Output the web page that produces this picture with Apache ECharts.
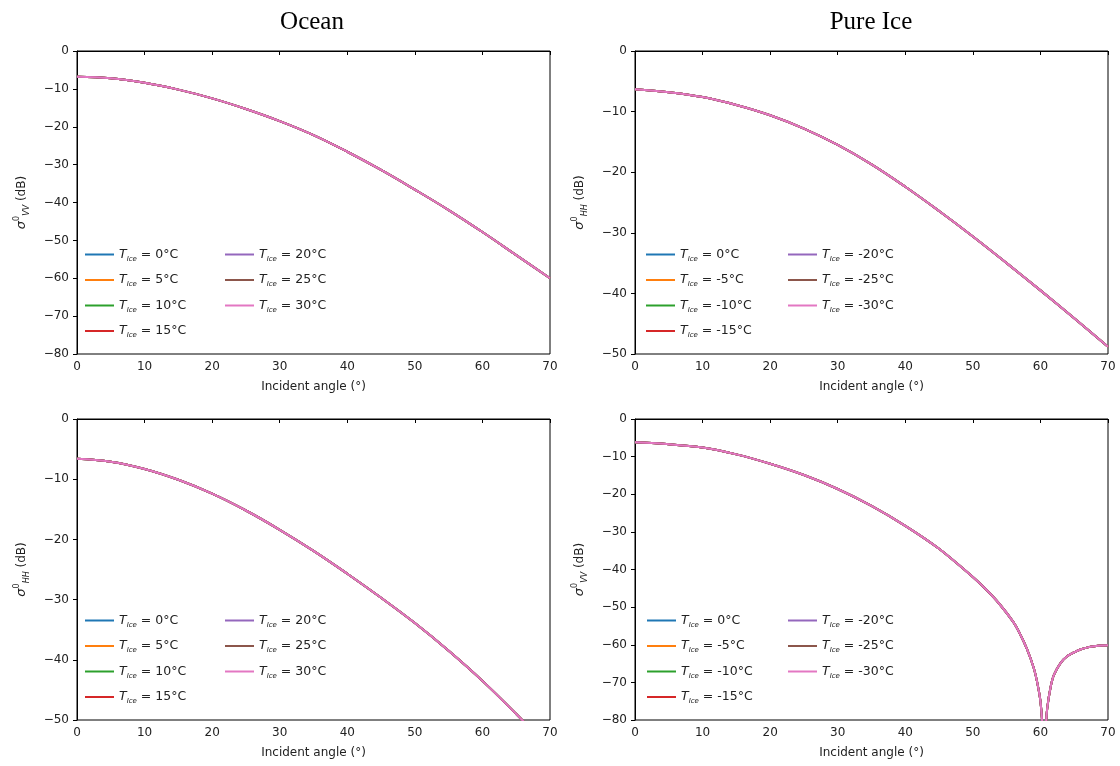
<!DOCTYPE html>
<html>
<head>
<meta charset="utf-8">
<script src="https://cdn.jsdelivr.net/npm/echarts@6/dist/echarts.min.js"></script>
<style>
html,body{margin:0;padding:0;background:#fff;}
#chart{width:1120px;height:766px;}
</style>
</head>
<body>
<div id="chart"></div>
<script>
// ---- data ----
const panelTitles = ['Ocean', 'Pure Ice'];
const oceanTemps = ['0°C', '5°C', '10°C', '15°C', '20°C', '25°C', '30°C'];
const iceTemps = ['0°C', '-5°C', '-10°C', '-15°C', '-20°C', '-25°C', '-30°C'];
const seriesColors = ['#1f77b4', '#ff7f0e', '#2ca02c', '#d62728', '#9467bd', '#8c564b', '#e377c2'];

const angles = [0, 5, 10, 15, 20, 25, 30, 35, 40, 45, 50, 55, 60, 65, 70];
// Ocean, VV (dB)
const oceanVV = [-6.8, -7.2, -8.4, -10.2, -12.5, -15.3, -18.5, -22.2, -26.6, -31.4, -36.6, -42.0, -47.8, -53.9, -60.0];
// Pure ice, HH (dB)
const iceHH = [-6.3, -6.8, -7.6, -8.9, -10.6, -12.8, -15.5, -18.7, -22.4, -26.4, -30.6, -35.0, -39.5, -44.1, -48.8];
// Ocean, HH (dB)
const oceanHH = [-6.6, -7.1, -8.3, -10.1, -12.4, -15.2, -18.4, -21.9, -25.7, -29.7, -33.9, -38.5, -43.5, -49.0, -54.8];
// Pure ice, VV (dB) — Brewster dip near 60.5°
const iceVVAngles = [0, 5, 10, 15, 20, 25, 30, 35, 40, 45, 50, 52, 54, 56, 57, 58, 59, 59.5, 60, 60.3, 60.55, 60.8, 61, 61.5, 62, 63, 64, 65, 66, 67, 68, 69, 70];
const iceVV = [-6.2, -6.7, -7.6, -9.4, -11.9, -14.9, -18.6, -23.1, -28.4, -34.5, -42.0, -45.4, -49.3, -54.0, -57.2, -61.1, -66.1, -69.8, -75.0, -82.0, -95.0, -82.0, -77.0, -71.3, -68.0, -64.8, -63.0, -62.0, -61.2, -60.7, -60.4, -60.2, -60.1];

const xTicks = {min: 0, max: 70, interval: 10};

// ---- layout ----
const grids = [
  {left: 77, top: 51, width: 473, height: 303},
  {left: 635, top: 51, width: 473, height: 303},
  {left: 77, top: 419, width: 473, height: 301},
  {left: 635, top: 419, width: 473, height: 301}
];
const panels = [
  {x: angles, y: oceanVV, ymin: -80, pol: 'VV', temps: oceanTemps, legTop: 248, col1: 85, col2: 225, smooth: 0.4},
  {x: angles, y: iceHH, ymin: -50, pol: 'HH', temps: iceTemps, legTop: 248, col1: 646, col2: 788, smooth: 0.4},
  {x: angles, y: oceanHH, ymin: -50, pol: 'HH', temps: oceanTemps, legTop: 614, col1: 85, col2: 225, smooth: 0.4},
  {x: iceVVAngles, y: iceVV, ymin: -80, pol: 'VV', temps: iceTemps, legTop: 614, col1: 647, col2: 788, smooth: 0.25}
];

const fmtNum = v => (v < 0 ? '\u2212' + Math.abs(v) : String(v));
const tickFont = {fontFamily: 'DejaVu Sans', fontSize: 12, color: '#222'};

const xAxes = [], yAxes = [], series = [], legends = [];
panels.forEach((p, i) => {
  xAxes.push({
    type: 'value', gridIndex: i, min: xTicks.min, max: xTicks.max, interval: xTicks.interval,
    name: 'Incident angle (°)', nameLocation: 'middle', nameGap: 27,
    nameTextStyle: {fontFamily: 'DejaVu Sans', fontSize: 12, color: '#222'},
    axisLine: {show: true, lineStyle: {color: '#000', width: 1}},
    axisTick: {show: true, length: 4, lineStyle: {color: '#000'}},
    axisLabel: Object.assign({margin: 7, formatter: fmtNum}, tickFont),
    splitLine: {show: false}
  });
  yAxes.push({
    type: 'value', gridIndex: i, min: p.ymin, max: 0, interval: 10,
    name: '{s|σ}{sup|0}{sub|' + p.pol + '}{n| (dB)}', nameLocation: 'middle', nameGap: 46, nameRotate: 90,
    nameTextStyle: {
      fontFamily: 'DejaVu Sans', fontSize: 12, color: '#222',
      rich: {
        s: {fontFamily: 'DejaVu Sans', fontSize: 13, fontStyle: 'italic', color: '#222', lineHeight: 18},
        sup: {fontFamily: 'DejaVu Sans', fontSize: 8, color: '#222', verticalAlign: 'top', lineHeight: 10},
        sub: {fontFamily: 'DejaVu Sans', fontSize: 8, fontStyle: 'italic', color: '#222', verticalAlign: 'bottom', lineHeight: 10},
        n: {fontFamily: 'DejaVu Sans', fontSize: 12, color: '#222', lineHeight: 18}
      }
    },
    axisLine: {show: true, lineStyle: {color: '#000', width: 1}},
    axisTick: {show: true, length: 4, lineStyle: {color: '#000'}},
    axisLabel: Object.assign({margin: 8, formatter: fmtNum}, tickFont),
    splitLine: {show: false}
  });
  const data = p.x.map((a, k) => [a, p.y[k]]);
  p.temps.forEach((t, j) => {
    series.push({
      type: 'line', name: t, xAxisIndex: i, yAxisIndex: i,
      data: data, showSymbol: false, symbol: 'none',
      smooth: p.smooth, clip: true,
      color: seriesColors[j],
      lineStyle: {width: 2, color: seriesColors[j]},
      animation: false
    });
  });
  const legBase = {
    orient: 'vertical', icon: 'rect', itemWidth: 29, itemHeight: 2, itemGap: 11,
    padding: 0, top: p.legTop, selectedMode: false,
    formatter: n => '{i|T}{s|Ice}{n| = ' + n + '}',
    textStyle: {
      fontFamily: 'DejaVu Sans', fontSize: 12, color: '#222',
      rich: {
        i: {fontFamily: 'DejaVu Sans', fontSize: 12.5, fontStyle: 'italic', color: '#222', lineHeight: 16},
        s: {fontFamily: 'DejaVu Sans', fontSize: 7, fontStyle: 'italic', color: '#222', verticalAlign: 'bottom', lineHeight: 10},
        n: {fontFamily: 'DejaVu Sans', fontSize: 12.5, color: '#222', lineHeight: 16}
      }
    }
  };
  legends.push(Object.assign({}, legBase, {left: p.col1, data: p.temps.slice(0, 4)}));
  legends.push(Object.assign({}, legBase, {left: p.col2, data: p.temps.slice(4)}));
});

const titles = [
  {text: panelTitles[0], left: 307, top: 5, textAlign: 'center',
   textStyle: {fontFamily: 'Liberation Serif', fontSize: 25, fontWeight: 'normal', color: '#000'}},
  {text: panelTitles[1], left: 866, top: 5, textAlign: 'center',
   textStyle: {fontFamily: 'Liberation Serif', fontSize: 25, fontWeight: 'normal', color: '#000'}}
];

const chart = echarts.init(document.getElementById('chart'), null, {renderer: 'canvas'});
chart.setOption({
  animation: false,
  backgroundColor: '#fff',
  title: titles,
  grid: grids.map(g => Object.assign({show: true, borderColor: '#000', borderWidth: 1, backgroundColor: 'transparent'}, g)),
  xAxis: xAxes,
  yAxis: yAxes,
  legend: legends,
  series: series
});
</script>
</body>
</html>
